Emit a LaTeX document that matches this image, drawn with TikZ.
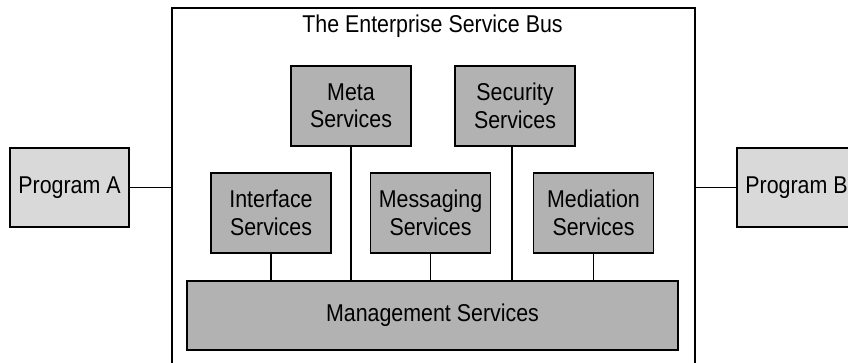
\documentclass[tikz,border=0pt]{standalone}
\usepackage{fontspec}
\setmainfont[FakeStretch=0.88]{Liberation Sans}
\definecolor{progfill}{RGB}{217,217,217}
\definecolor{svcfill}{RGB}{178,178,178}
\begin{document}
\begin{tikzpicture}[x=1pt,y=-1pt,
  every node/.style={font=\fontsize{24.3}{27.5}\selectfont, align=center, inner sep=0pt},
  progbox/.style={draw=black, line width=1.3pt, fill=progfill, minimum width=119pt, minimum height=79pt},
  svcbox/.style={draw=black, line width=1.3pt, fill=svcfill, minimum width=120pt, minimum height=80pt},
  esbbox/.style={draw=black, line width=1.3pt, fill=white, minimum width=523pt, minimum height=372pt},
  conn/.style={draw=black, line width=1.8pt}]
\useasboundingbox (0,0) rectangle (848,363);
\clip (0,0) rectangle (848,363);
\fill[white] (0,0) rectangle (848,363);
\node[esbbox] (esb) at (433.5,194) {};
\node (title) at (432.5,26) {The Enterprise Service Bus};
\node[progbox] (pa) at (69.5,187.5) {Program A};
\node[progbox] (pb) at (796.5,187.5) {Program B};
\node[svcbox] (meta) at (351,106) {Meta\\Services};
\node[svcbox] (sec) at (515,106) {Security\\Services};
\node[svcbox] (intf) at (271,213) {Interface\\Services};
\node[svcbox] (msg) at (430.5,213) {Messaging\\Services};
\node[svcbox] (med) at (593.5,213) {Mediation\\Services};
\node[svcbox, minimum width=491pt, minimum height=69pt] (mgmt) at (432.5,315.5) {Management Services};
\draw[conn] (pa.east) -- (pa.east -| esb.west);
\draw[conn] (pb.west) -- (pb.west -| esb.east);
\draw[conn] (meta.south) -- (meta.south |- mgmt.north);
\draw[conn] ([xshift=-3pt]sec.south) -- ([xshift=-3pt]sec.south |- mgmt.north);
\draw[conn] (intf.south) -- (intf.south |- mgmt.north);
\draw[conn] (msg.south) -- (msg.south |- mgmt.north);
\draw[conn] (med.south) -- (med.south |- mgmt.north);
\end{tikzpicture}
\end{document}
